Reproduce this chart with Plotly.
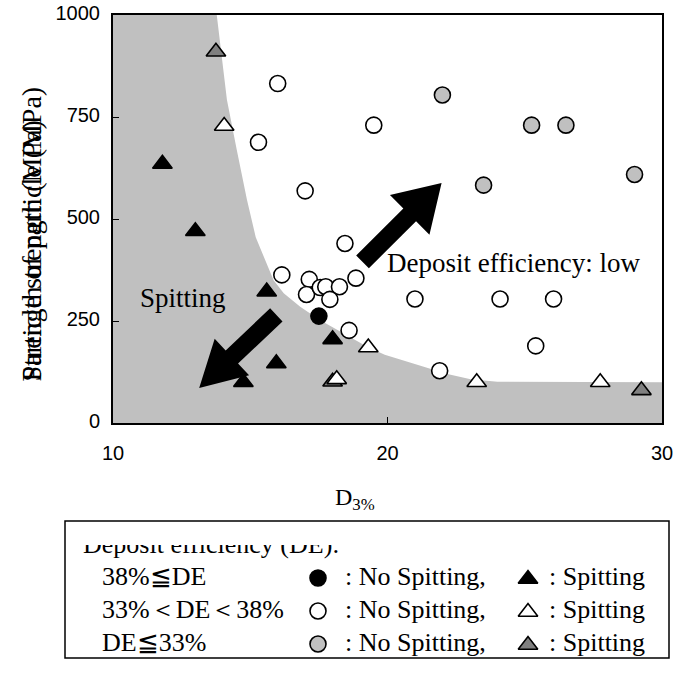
import plotly.graph_objects as go
import math

# ---------------- data ----------------
blk_circ_x = [17.5]
blk_circ_y = [262]
blk_tri_x = [11.8, 13.0, 15.6, 15.95, 14.75, 18.0]
blk_tri_y = [635, 470, 322, 146, 100, 205]
open_circ_x = [16.0, 15.3, 19.5, 17.0, 18.45, 16.15, 17.15, 17.05, 17.55, 17.75,
               18.25, 17.9, 18.85, 18.6, 21.0, 24.1, 26.05, 25.4, 21.9]
open_circ_y = [832, 688, 730, 569, 440, 363, 352, 315, 332, 334,
               334, 303, 355, 227, 304, 304, 304, 189, 128]
open_tri_x = [14.05, 19.3, 18.15, 23.25, 27.75]
open_tri_y = [728, 185, 107, 100, 100]
gray_circ_x = [22.0, 25.25, 26.5, 29.0, 23.5]
gray_circ_y = [804, 730, 730, 609, 583]
gray_tri_x = [13.75, 18.0, 29.25]
gray_tri_y = [910, 101, 80]

# boundary of the "Spitting" region
bound_x = [13.78, 14.15, 14.51, 14.88, 15.2, 15.55, 15.85, 16.22, 16.82, 17.55,
           18.4, 19.26, 19.9, 20.96, 22.18, 23.03, 24.0, 30]
bound_y = [1000, 792, 669, 547, 455, 400, 350, 318, 285, 252,
           220, 187, 167, 146, 120, 107, 101, 100]

x_ticks = [10, 20, 30]
y_ticks = [0, 250, 500, 750, 1000]

# ---------------- layout geometry (absolute screen pixels) ----------------
OFF = 0                      # body margin removed by post_script below
W, H = 687, 673
ML, MR, MT, MB = 40, 0, 15, 10
IW, IH = W - ML - MR, H - MT - MB
P_LEFT, P_RIGHT, P_TOP, P_BOTTOM = 113, 662, 15, 423
XR, YR = [10, 30], [0, 1000]
SX = (P_RIGHT - P_LEFT) / (XR[1] - XR[0])
SY = (P_BOTTOM - P_TOP) / (YR[1] - YR[0])


def px(xp):  # absolute screen pixel -> paper x
    return (xp - OFF - ML) / IW


def py(yp):  # absolute screen pixel -> paper y
    return (H - MB - (yp - OFF)) / IH


def arrow_path(tail, tip, shaft_w, head_w, head_l):
    tx, ty = (tail[0] - XR[0]) * SX, -tail[1] * SY
    hx, hy = (tip[0] - XR[0]) * SX, -tip[1] * SY
    dx, dy = hx - tx, hy - ty
    L = math.hypot(dx, dy)
    ux, uy = dx / L, dy / L
    nx, ny = -uy, ux
    bx, by = hx - ux * head_l, hy - uy * head_l
    pts = [
        (tx + nx * shaft_w / 2, ty + ny * shaft_w / 2),
        (bx + nx * shaft_w / 2, by + ny * shaft_w / 2),
        (bx + nx * head_w / 2, by + ny * head_w / 2),
        (hx, hy),
        (bx - nx * head_w / 2, by - ny * head_w / 2),
        (bx - nx * shaft_w / 2, by - ny * shaft_w / 2),
        (tx - nx * shaft_w / 2, ty - ny * shaft_w / 2),
    ]
    d = []
    for i, (a, b) in enumerate(pts):
        d.append(("M" if i == 0 else "L") + f"{a / SX + XR[0]:.4f},{-b / SY:.3f}")
    return " ".join(d) + " Z"


fig = go.Figure()

# shaded spitting region
fig.add_trace(go.Scatter(
    x=[XR[0], XR[0]] + bound_x + [XR[1]],
    y=[YR[0], YR[1]] + bound_y + [YR[0]],
    mode="lines", fill="toself", fillcolor="#c0c0c0",
    line=dict(width=0, color="#c0c0c0"), hoverinfo="skip", showlegend=False))

MS = 16
LW = 1.6
series = [
    (open_circ_x, open_circ_y, "circle", "white"),
    (gray_circ_x, gray_circ_y, "circle", "#c0c0c0"),
    (blk_circ_x, blk_circ_y, "circle", "black"),
    (gray_tri_x, gray_tri_y, "triangle-up", "#808080"),
    (open_tri_x, open_tri_y, "triangle-up", "white"),
    (blk_tri_x, blk_tri_y, "triangle-up", "black"),
]
for xs, ys, sym, col in series:
    fig.add_trace(go.Scatter(
        x=xs, y=ys, mode="markers", showlegend=False, cliponaxis=False,
        marker=dict(symbol=sym, size=MS if sym == "circle" else 17, color=col,
                    line=dict(color="black", width=LW))))

# ---- legend subplot (absolute pixel coordinates, clipped at its top) ----
BOX_X = [65, 669]
BOX_Y = [521, 658]
LG_Y = [545, 658]
serif = "Liberation Serif, Times New Roman, serif"
lfs = 26
rows_y = [578, 611, 644]
row_labels = ["38%≦DE", "33%＜DE＜38%", "DE≦33%"]
circ_cols = ["black", "white", "#c0c0c0"]
tri_cols = ["black", "white", "#808080"]


def lg_text(xs, ys, texts, clip):
    fig.add_trace(go.Scatter(
        x=xs, y=ys, xaxis="x2", yaxis="y2", mode="text", cliponaxis=clip,
        text=texts, textposition="middle right",
        textfont=dict(family=serif, size=lfs, color="black"), showlegend=False,
        hoverinfo="skip"))


lg_text([83], [546], ["Deposit efficiency (DE):"], True)
lg_text([102] * 3, rows_y, row_labels, False)
fig.add_trace(go.Scatter(
    x=[318] * 3, y=rows_y, xaxis="x2", yaxis="y2", mode="markers", cliponaxis=False,
    marker=dict(symbol="circle", size=MS, color=circ_cols,
                line=dict(color="black", width=LW)), showlegend=False, hoverinfo="skip"))
fig.add_trace(go.Scatter(
    x=[528] * 3, y=[r + 1 for r in rows_y], xaxis="x2", yaxis="y2", mode="markers",
    cliponaxis=False,
    marker=dict(symbol="triangle-up", size=17, color=tri_cols,
                line=dict(color="black", width=LW)), showlegend=False, hoverinfo="skip"))
lg_text([345] * 3, rows_y, [": No Spitting,"] * 3, False)
lg_text([549] * 3, rows_y, [": Spitting"] * 3, False)

tickfont = dict(family="Liberation Sans, Arial, sans-serif", size=20, color="black")

fig.update_layout(
    width=W, height=H,
    margin=dict(l=ML, r=MR, t=MT, b=MB, autoexpand=False),
    paper_bgcolor="white", plot_bgcolor="white",
    xaxis=dict(range=XR, domain=[px(P_LEFT), px(P_RIGHT)], tickvals=x_ticks,
               ticks="inside", ticklen=6,
               tickcolor="black", showgrid=False, zeroline=False, showline=True,
               linecolor="black", linewidth=2, mirror=True, tickfont=tickfont,
               ticklabelstandoff=11, anchor="y", automargin=False,
               ticklabeloverflow="allow"),
    yaxis=dict(range=YR, domain=[py(P_BOTTOM), py(P_TOP)], tickvals=y_ticks,
               ticks="inside", ticklen=6,
               tickcolor="black", showgrid=False, zeroline=False, showline=True,
               linecolor="black", linewidth=2, mirror=True, tickfont=tickfont,
               ticklabelstandoff=7, ticklabelshift=-2, anchor="x", automargin=False,
               ticklabeloverflow="allow"),
    xaxis2=dict(range=BOX_X, domain=[px(BOX_X[0]), px(BOX_X[1])], visible=False,
                anchor="y2", fixedrange=True, automargin=False),
    yaxis2=dict(range=[LG_Y[1], LG_Y[0]], domain=[py(LG_Y[1]), py(LG_Y[0])],
                visible=False, anchor="x2", fixedrange=True, automargin=False),
)

# arrows
fig.add_shape(type="path", xref="x", yref="y", layer="above",
              path=arrow_path((19.09, 395), (21.97, 588), 18, 56, 45),
              fillcolor="black", line=dict(width=0))
fig.add_shape(type="path", xref="x", yref="y", layer="above",
              path=arrow_path((15.95, 265), (13.14, 86), 18, 50, 45),
              fillcolor="black", line=dict(width=0))

# legend box
fig.add_shape(type="rect", xref="paper", yref="paper",
              x0=px(BOX_X[0]), x1=px(BOX_X[1]), y0=py(BOX_Y[1]), y1=py(BOX_Y[0]),
              line=dict(color="black", width=1.5), fillcolor="rgba(0,0,0,0)")

# text annotations
fig.add_annotation(xref="paper", yref="paper", x=px(513), y=py(263),
                   xanchor="center", yanchor="middle",
                   text="Deposit efficiency: low", showarrow=False,
                   font=dict(family=serif, size=27, color="black"))
fig.add_annotation(xref="paper", yref="paper", x=px(183), y=py(298),
                   xanchor="center", yanchor="middle",
                   text="Spitting", showarrow=False,
                   font=dict(family=serif, size=27, color="black"))
fig.add_annotation(xref="paper", yref="paper", x=px(355), y=py(499),
                   xanchor="center", yanchor="middle",
                   text="D<sub>3%</sub>", showarrow=False,
                   font=dict(family=serif, size=24, color="black"))
for t in ["Strength of particle (MPa)", "Particle strength (MPa)"]:
    fig.add_annotation(xref="paper", yref="paper", x=px(31), y=py(384),
                       xanchor="center", yanchor="bottom", textangle=-90,
                       text=t, showarrow=False,
                       font=dict(family=serif, size=28, color="black"))

fig.write_html("out.html",
               config={"displayModeBar": False},
               post_script="document.body.style.margin='0';"
                           "document.body.style.overflow='hidden';")
